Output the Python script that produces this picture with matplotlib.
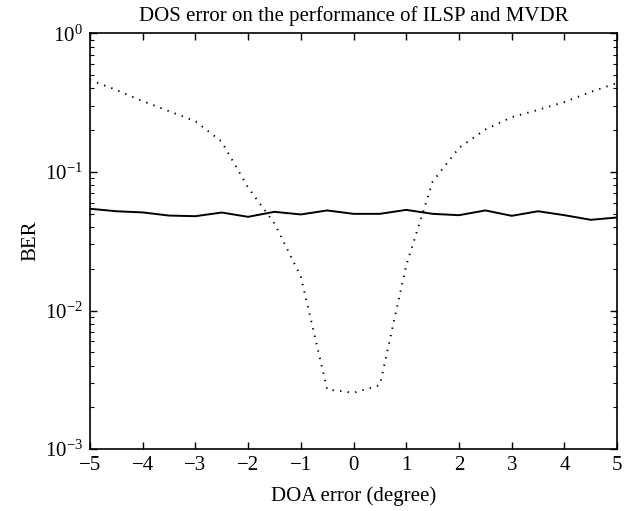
import matplotlib
matplotlib.use("Agg")
import matplotlib.pyplot as plt
import numpy as np

plt.rcParams['font.family'] = ['Liberation Serif', 'DejaVu Serif']
plt.rcParams['mathtext.fontset'] = 'stix'

doa_error = [-5, -4.5, -4, -3.5, -3, -2.5, -2, -1.5, -1, -0.5, 0,
             0.5, 1, 1.5, 2, 2.5, 3, 3.5, 4, 4.5, 5]
ber_ilsp = [0.0542, 0.052, 0.051, 0.0484, 0.0479, 0.0509, 0.0474, 0.0515,
            0.0493, 0.0527, 0.0498, 0.0498, 0.0532, 0.0498, 0.0487, 0.0527,
            0.0482, 0.052, 0.0487, 0.0451, 0.0469]
ber_mvdr = [0.46, 0.39, 0.324, 0.274, 0.232, 0.165, 0.077, 0.0425, 0.0176,
            0.0027, 0.00255, 0.0029, 0.0212, 0.085, 0.149, 0.202, 0.248,
            0.28, 0.319, 0.377, 0.438]
xticks = [-5, -4, -3, -2, -1, 0, 1, 2, 3, 4, 5]

fig = plt.figure(figsize=(6.33, 5.11), dpi=100)
ax = fig.add_axes([0.142, 0.121, 0.833, 0.814])

ax.semilogy(doa_error, ber_ilsp, color='black', lw=1.4, linestyle='-')
ax.semilogy(doa_error, ber_mvdr, color='black', lw=1.4, linestyle=(0, (0.7, 3.2)))

ax.set_xlim(-5, 5)
ax.set_ylim(1e-3, 1e0)
ax.set_xticks(xticks)
ax.set_xticklabels([f"\u2212{abs(t)}" if t < 0 else str(t) for t in xticks])
ax.tick_params(which='both', direction='in', top=True, right=True, labelsize=15)
ax.tick_params(which='major', length=5, width=1.0, pad=5)
ax.tick_params(which='minor', length=3, width=0.8)
for s in ax.spines.values():
    s.set_linewidth(1.2)

ax.set_xlabel('DOA error (degree)', fontsize=15, labelpad=8)
ax.set_ylabel('BER', fontsize=15, labelpad=3)
ax.set_title('DOS error on the performance of ILSP and MVDR', fontsize=15, pad=9)

fig.savefig('out.png', dpi=100, facecolor='white')
